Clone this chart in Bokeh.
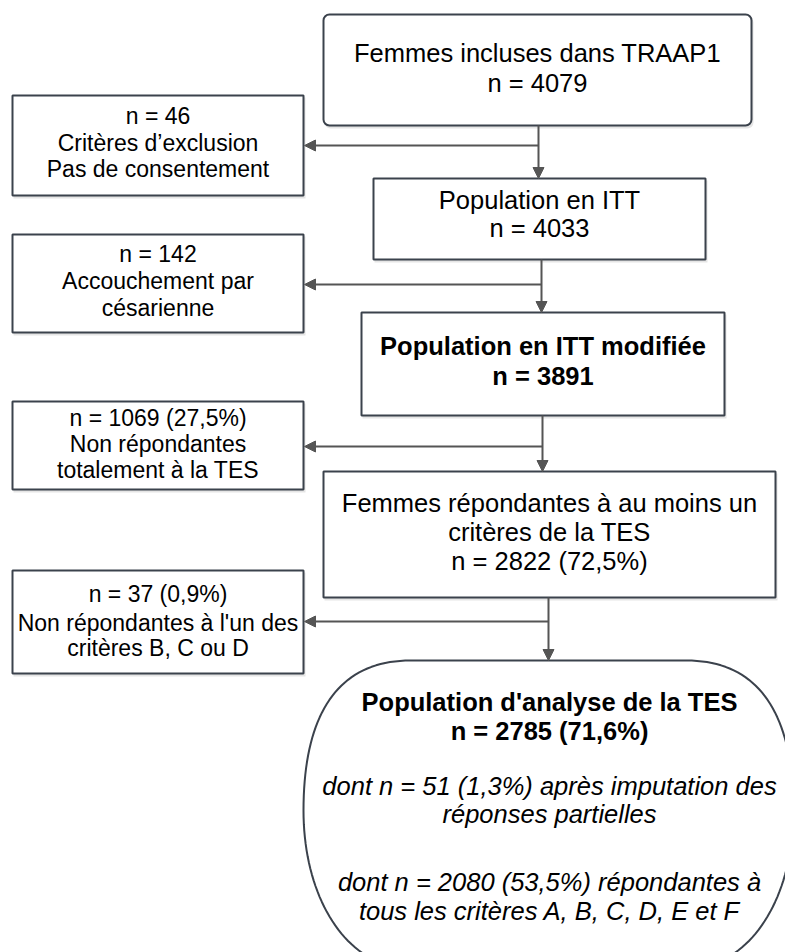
import numpy as np
from bokeh.plotting import figure
from bokeh.models import Range1d, BoxAnnotation, Arrow, NormalHead, ColumnDataSource
from bokeh.core.properties import value
from bokeh.embed import file_html
from bokeh.resources import INLINE

# ---------------- content ----------------
main_labels = [
    ["Femmes incluses dans TRAAP1", "n = 4079"],
    ["Population en ITT", "n = 4033"],
    ["Population en ITT modifiée", "n = 3891"],
    ["Femmes répondantes à au moins un", "critères de la TES", "n = 2822 (72,5%)"],
]
main_bold = [False, False, True, False]
excl_labels = [
    ["n = 46", "Critères d’exclusion", "Pas de consentement"],
    ["n = 142", "Accouchement par", "césarienne"],
    ["n = 1069 (27,5%)", "Non répondantes", "totalement à la TES"],
    ["n = 37 (0,9%)", "Non répondantes à l'un des", "critères B, C ou D"],
]
final_bold = ["Population d'analyse de la TES", "n = 2785 (71,6%)"]
final_italic = ["dont n = 51 (1,3%) après imputation des", "réponses partielles",
                "dont n = 2080 (53,5%) répondantes à", "tous les critères A, B, C, D, E et F"]

# ---------------- layout (page pixels, origin top-left) ----------------
W, H = 785, 952
main_boxes = [(323, 751, 14, 125), (373, 705, 178, 259), (361, 724, 312, 415), (323, 775, 471, 597)]
main_text_y = [[52, 82], [199, 227], [345, 375], [502, 531, 560]]
excl_boxes = [(12, 303, 95, 195), (12, 303, 234, 332), (12, 303, 401, 489), (12, 303, 570, 673)]
excl_text_y = [[115, 142, 168], [253, 280, 307], [417, 443, 469], [593, 622, 647]]
trunk_x = [538, 541, 542, 548]
branch_y = [145, 284, 446, 621]
ell_cx, ell_top, ell_bot = 548, 660, 968
ell_bold_y = [701, 730]
ell_ital_y = [785, 813, 881, 910]

BOX_LINE = "#3b424c"
CONN = "#555555"
FONT = "Liberation Sans"


def Y(y):
    return H - y


p = figure(width=W, height=H, x_range=Range1d(0, W), y_range=Range1d(0, H),
           output_backend="svg", toolbar_location=None, x_axis_type=None, y_axis_type=None,
           min_border=0, outline_line_color=None, background_fill_color="white")
p.grid.visible = False

# shadows and boxes
all_boxes = main_boxes + excl_boxes
for i, (l, r, t, b) in enumerate(all_boxes):
    rad = 6 if i == 0 else 0
    p.add_layout(BoxAnnotation(left=l + 1, right=r + 2, top=Y(t + 2), bottom=Y(b + 3),
                               fill_color="#000000", fill_alpha=0.10, line_alpha=0,
                               border_radius=rad, level="underlay", editable=False))
for i, (l, r, t, b) in enumerate(all_boxes):
    rad = 6 if i == 0 else 0
    p.add_layout(BoxAnnotation(left=l, right=r, top=Y(t), bottom=Y(b),
                               fill_color="white", fill_alpha=1.0, line_color=BOX_LINE,
                               line_alpha=1.0, line_width=2, border_radius=rad,
                               level="underlay", editable=False))


# final rounded shape
def bez(p0, p1, p2, p3, n=40):
    t = np.linspace(0, 1, n)[:, None]
    pts = ((1 - t) ** 3) * np.array(p0) + 3 * ((1 - t) ** 2) * t * np.array(p1) \
        + 3 * (1 - t) * t ** 2 * np.array(p2) + t ** 3 * np.array(p3)
    return pts


c = ell_cx
segs = [
    bez((c + 138, ell_top), (c + 208, ell_top), (c + 245, 710), (c + 245, 810)),
    bez((c + 245, 810), (c + 245, 900), (c + 200, ell_bot), (c + 138, ell_bot)),
    bez((c - 138, ell_bot), (c - 200, ell_bot), (c - 245, 900), (c - 245, 810)),
    bez((c - 245, 810), (c - 245, 710), (c - 208, ell_top), (c - 138, ell_top)),
]
outline = np.vstack(segs)
xs = list(outline[:, 0]) + [outline[0, 0]]
ys = [Y(v) for v in outline[:, 1]] + [Y(outline[0, 1])]
p.patch(xs, ys, fill_color="white", line_color=BOX_LINE, line_width=2)

# texts
tx, ty, tt = [], [], []
bx, by_, bt = [], [], []
for (l, r, t, b), labels, ys_, bold in zip(main_boxes, main_labels, main_text_y, main_bold):
    for s, yy in zip(labels, ys_):
        if bold:
            bx.append((l + r) / 2); by_.append(Y(yy)); bt.append(s)
        else:
            tx.append((l + r) / 2); ty.append(Y(yy)); tt.append(s)
p.text(x="x", y="y", text="t", source=ColumnDataSource(dict(x=tx, y=ty, t=tt)),
       text_font=value(FONT), text_font_size="25.5px", text_align="center",
       text_baseline="middle", text_color="#000000")
for s, yy in zip(final_bold, ell_bold_y):
    bx.append(ell_cx + 1); by_.append(Y(yy)); bt.append(s)
p.text(x="x", y="y", text="t", source=ColumnDataSource(dict(x=bx, y=by_, t=bt)),
       text_font=value(FONT), text_font_size="25.5px", text_font_style="bold",
       text_align="center", text_baseline="middle", text_color="#000000")
p.text(x="x", y="y", text="t",
       source=ColumnDataSource(dict(x=[ell_cx + 1] * len(final_italic),
                                    y=[Y(v) for v in ell_ital_y], t=final_italic)),
       text_font=value(FONT), text_font_size="25.5px", text_font_style="italic",
       text_align="center", text_baseline="middle", text_color="#000000")

ex, ey, et = [], [], []
for (l, r, t, b), labels, ys_ in zip(excl_boxes, excl_labels, excl_text_y):
    for s, yy in zip(labels, ys_):
        ex.append((l + r) / 2); ey.append(Y(yy)); et.append(s)
p.text(x="x", y="y", text="t", source=ColumnDataSource(dict(x=ex, y=ey, t=et)),
       text_font=value(FONT), text_font_size="23px", text_align="center",
       text_baseline="middle", text_color="#000000")

# connectors
next_tops = [main_boxes[1][2], main_boxes[2][2], main_boxes[3][2], ell_top]
for i in range(4):
    x0 = trunk_x[i]
    y_start = main_boxes[i][3]
    p.add_layout(Arrow(x_start=x0, y_start=Y(y_start), x_end=x0, y_end=Y(next_tops[i]),
                       line_color=CONN, line_width=2,
                       end=NormalHead(size=11, fill_color=CONN, line_color=CONN, line_width=1)))
    p.add_layout(Arrow(x_start=x0, y_start=Y(branch_y[i]), x_end=excl_boxes[i][1] + 1,
                       y_end=Y(branch_y[i]), line_color=CONN, line_width=2,
                       end=NormalHead(size=11, fill_color=CONN, line_color=CONN, line_width=1)))

open("out.html", "w").write(file_html(p, INLINE))
